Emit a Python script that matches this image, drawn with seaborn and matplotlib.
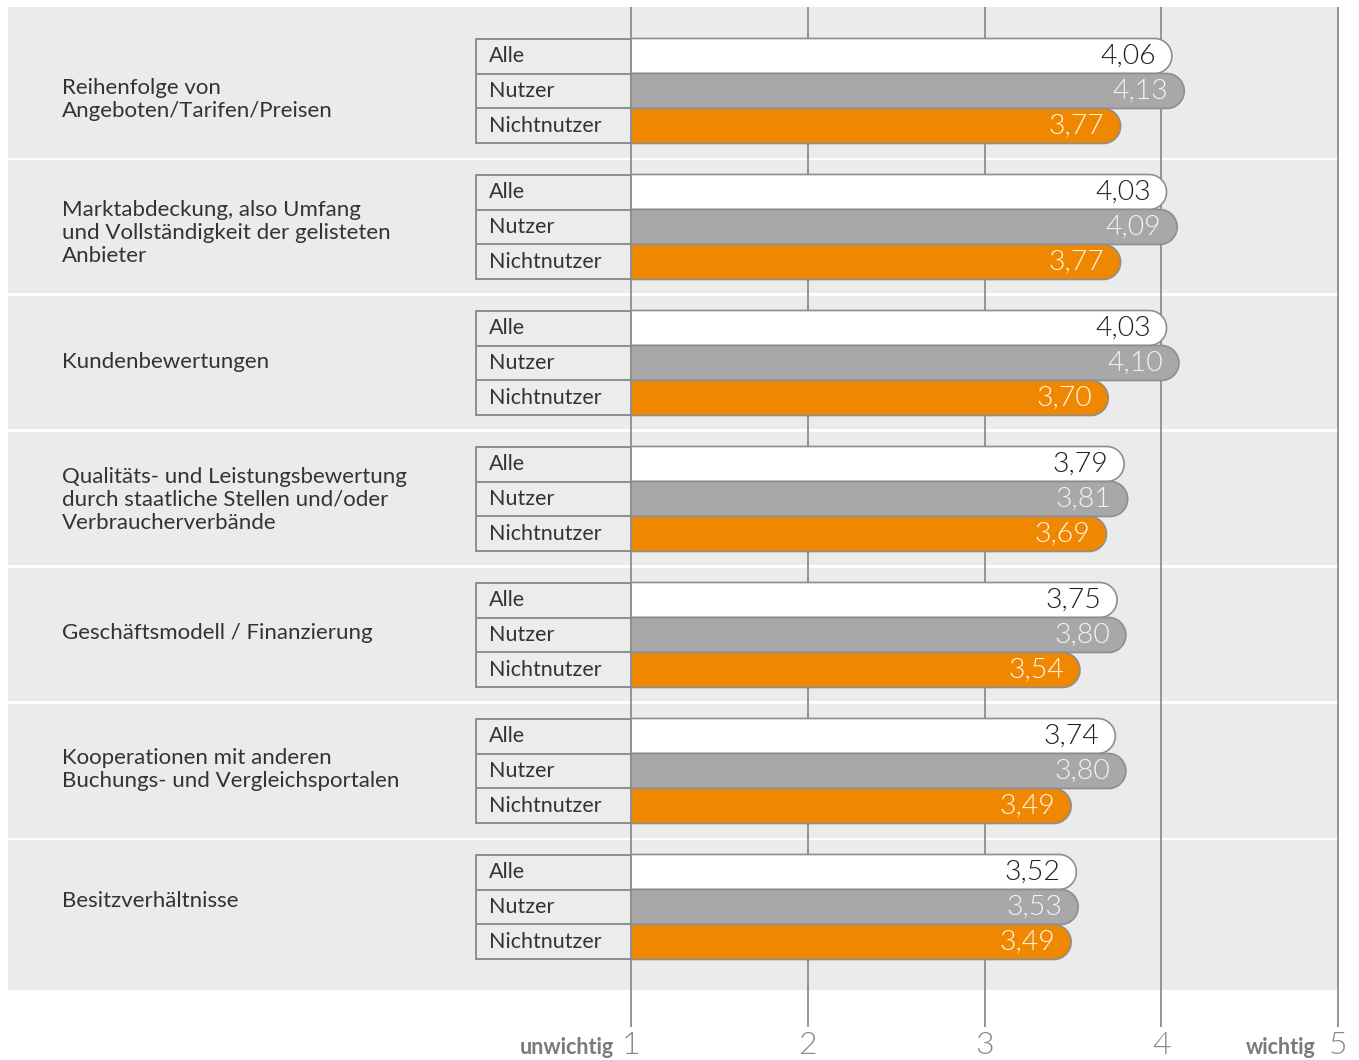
import numpy as np
import pandas as pd
import matplotlib
matplotlib.use("Agg")
import matplotlib.pyplot as plt
import matplotlib.transforms as mtransforms
from matplotlib.patches import Rectangle, Polygon
import seaborn as sns

# --- data -------------------------------------------------------------
categories = [
    "Reihenfolge von\nAngeboten/Tarifen/Preisen",
    "Marktabdeckung, also Umfang\nund Vollständigkeit der gelisteten\nAnbieter",
    "Kundenbewertungen",
    "Qualitäts- und Leistungsbewertung\ndurch staatliche Stellen und/oder\nVerbraucherverbände",
    "Geschäftsmodell / Finanzierung",
    "Kooperationen mit anderen\nBuchungs- und Vergleichsportalen",
    "Besitzverhältnisse",
]
groups = ["Alle", "Nutzer", "Nichtnutzer"]
alle = [4.06, 4.03, 4.03, 3.79, 3.75, 3.74, 3.52]
nutzer = [4.13, 4.09, 4.10, 3.81, 3.80, 3.80, 3.53]
nichtnutzer = [3.77, 3.77, 3.70, 3.69, 3.54, 3.49, 3.49]
scale_ticks = [1, 2, 3, 4, 5]
scale_labels = ["1", "2", "3", "4", "5"]
scale_low = "unwichtig"
scale_high = "wichtig"

df = pd.DataFrame({
    "Kategorie": categories * 3,
    "Gruppe": [g for g in groups for _ in categories],
    "Wert": alle + nutzer + nichtnutzer,
})

# --- styling ----------------------------------------------------------
bar_colors = {"Alle": "#ffffff", "Nutzer": "#a9a7a7", "Nichtnutzer": "#f08700"}
value_colors = {"Alle": "#1e1e1e", "Nutzer": "#f4f4f4", "Nichtnutzer": "#fff6ea"}
panel_color = "#ebebeb"
line_color = "#8c8c8c"
text_color = "#333333"
# small vertical nudges (px) of the category captions
caption_shift = [8.5, 6, -1, 1, -2, -1.5, -5.5]

sns.set_theme(style="white")
plt.rcParams["font.family"] = ["Lato", "DejaVu Sans"]

W, H = 1359, 1060
fig = plt.figure(figsize=(W / 100, H / 100), dpi=100)

# layout in pixels: scale value 1 at x=631, one unit = 176.75 px;
# groups are 136 px apart, first group centred at y=91
PX_X, X1_PX = 176.75, 631
PX_Y, Y0_PX = 136.0, 91
AX_TOP, AX_BOT = 7, 1027


def xd(px):
    return 1 + (px - X1_PX) / PX_X


def yd(px):
    return (px - Y0_PX) / PX_Y


ax = fig.add_axes([0, (H - AX_BOT) / H, 1, (AX_BOT - AX_TOP) / H])

sns.barplot(
    data=df, y="Kategorie", x="Wert", hue="Gruppe", hue_order=groups,
    order=categories, orient="h", palette=bar_colors, width=0.772,
    saturation=1, legend=False, ax=ax,
)

ax.set_xlim(xd(0), xd(W))
ax.set_ylim(yd(AX_BOT), yd(AX_TOP))
ax.set_xlabel("")
ax.set_ylabel("")
ax.set_yticks([])
ax.set_xticks(scale_ticks, labels=[""] * len(scale_ticks))
ax.tick_params(axis="x", length=0)
for s in ax.spines.values():
    s.set_visible(False)
ax.set_facecolor("white")
ax.set_axisbelow(True)
ax.grid(axis="x", color=line_color, linewidth=1.3)
ax.grid(axis="y", visible=False)

# grey panels behind each category
gap = 1.5 / PX_Y
n = len(categories)
for i in range(n):
    top = yd(AX_TOP) if i == 0 else i - 0.5 + gap
    bot = yd(990) if i == n - 1 else i + 0.5 - gap
    ax.add_patch(Rectangle((xd(8), top), 5 - xd(8), bot - top,
                           facecolor=panel_color, edgecolor="none", zorder=0.2))
    ax.text(xd(62), i + caption_shift[i] / PX_Y, categories[i], ha="left",
            va="center", fontsize=16, color=text_color, linespacing=1.17, zorder=3)

# turn each seaborn bar into a pill-ended bar starting at scale value 1
bars = [p for p in ax.patches if isinstance(p, Rectangle) and p.get_zorder() > 0.2
        and p.get_width() > 1]
bars = sorted(bars, key=lambda p: p.get_y() + p.get_height() / 2)
box_left = xd(476)
for j, p in enumerate(bars):
    g = groups[j % 3]
    y0, h, v = p.get_y(), p.get_height(), p.get_x() + p.get_width()
    yc = y0 + h / 2
    ry = h / 2
    rx = ry * PX_Y / PX_X
    t = np.linspace(-np.pi / 2, np.pi / 2, 60)
    arc = np.column_stack([v - rx + rx * np.cos(t), yc + ry * np.sin(t)])
    pts = np.vstack([[1, y0], arc, [1, y0 + h]])
    ax.add_patch(Polygon(pts, closed=True, facecolor=p.get_facecolor(),
                         edgecolor="#8e8e8e", linewidth=1.2, zorder=2))
    p.set_visible(False)
    # label box left of the bar
    ax.add_patch(Rectangle((box_left, y0), 1 - box_left, h, facecolor="#ececec",
                           edgecolor="#8e8e8e", linewidth=1.4, zorder=2.5))
    ax.text(xd(489), yc, g, ha="left", va="center", fontsize=15.5,
            color=text_color, zorder=3)
    ax.text(v - 16 / PX_X, yc, f"{v:.2f}".replace(".", ","), ha="right",
            va="center", fontsize=20.5, fontweight=300, color=value_colors[g], zorder=3)

# scale labels under the grid
tr = mtransforms.blended_transform_factory(ax.transData, fig.transFigure)
for xv, lab in zip(scale_ticks, scale_labels):
    ax.text(xv, 1 - 1054 / H, lab, transform=tr, ha="center", va="baseline",
            fontsize=23, fontweight=300, color="#8a8a8a", clip_on=False)
ax.text(xd(614), 1 - 1054 / H, scale_low, transform=tr, ha="right", va="baseline",
        fontsize=15.5, fontweight="bold", color="#7a7a7a", clip_on=False)
ax.text(xd(1316), 1 - 1054 / H, scale_high, transform=tr, ha="right", va="baseline",
        fontsize=15.5, fontweight="bold", color="#7a7a7a", clip_on=False)

fig.savefig("out.png", dpi=100)
